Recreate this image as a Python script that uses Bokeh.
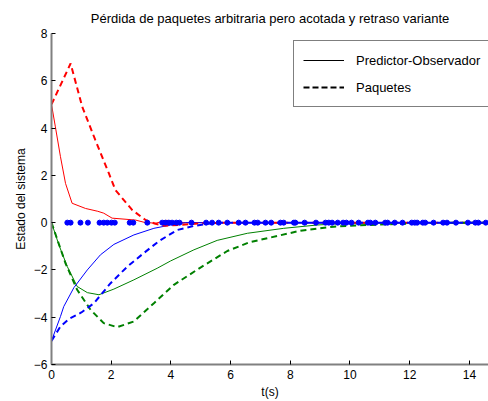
from bokeh.plotting import figure
from bokeh.models import Range1d, Legend, LegendItem, ColumnDataSource
from bokeh.embed import file_html
from bokeh.resources import INLINE

FONT = "Liberation Sans"

# Predictor-Observador (solid)
t_pred_r = [0, 0.13, 0.30, 0.47, 0.69, 1.14, 1.55, 1.75, 2.03, 2.81, 3.15, 3.5, 3.87, 4.1, 4.5, 15]
x_pred_r = [5.0, 4.05, 2.79, 1.66, 0.82, 0.6, 0.48, 0.40, 0.19, 0.11, 0.0, -0.02, 0.1, 0.0, 0.0, 0.0]

t_pred_g = [0, 0.25, 0.53, 0.86, 1.2, 1.59, 2.09, 2.76, 3.54, 3.99, 4.77, 5.55, 6.56, 7.78, 8.9, 10, 15]
x_pred_g = [0, -0.95, -1.86, -2.70, -2.96, -3.05, -2.81, -2.42, -1.93, -1.62, -1.15, -0.75, -0.45, -0.24, -0.1, -0.02, 0]

t_pred_b = [0, 0.3, 0.41, 0.75, 1.2, 1.64, 2.09, 2.76, 3.43, 3.99, 4.5, 15]
x_pred_b = [-5.0, -3.97, -3.55, -2.75, -2.0, -1.36, -0.92, -0.52, -0.24, -0.1, 0, 0]

# Paquetes (dashed)
t_paq_r = [0, 0.64, 1.03, 1.47, 1.92, 2.14, 2.70, 3.15, 3.48, 3.8, 4.3, 5.0, 6.0, 15]
x_paq_r = [5.0, 6.73, 4.9, 3.49, 2.09, 1.38, 0.54, 0.11, -0.05, -0.13, -0.1, -0.03, 0, 0]

t_paq_g = [0, 0.47, 0.86, 1.31, 1.75, 2.2, 2.76, 3.43, 4.1, 4.99, 5.89, 6.61, 7.23, 8.34, 9.46, 10.58, 11.7, 13, 15]
x_paq_g = [0, -1.72, -2.84, -3.69, -4.25, -4.42, -4.18, -3.41, -2.63, -1.9, -1.2, -0.84, -0.66, -0.34, -0.17, -0.10, -0.05, -0.01, 0]

t_paq_b = [0, 0.3, 0.6, 1.0, 1.42, 1.98, 2.54, 3.09, 3.6, 4.21, 4.77, 5.5, 15]
x_paq_b = [-5.0, -4.39, -4.06, -3.8, -3.41, -2.56, -1.86, -1.29, -0.78, -0.31, -0.14, 0, 0]

# Packet arrival instants (blue dots on zero)
t_dots = [0.53, 0.64, 0.97, 1.22, 1.61, 1.75, 1.87, 2.01, 2.12, 2.62, 2.74, 3.21,
          3.71, 3.82, 3.93, 4.04, 4.18, 4.29, 4.69, 5.18, 5.38, 5.60, 5.89, 6.27,
          6.50, 6.80, 6.91, 7.17, 7.36, 7.67, 7.78, 8.12, 8.17, 8.48, 8.86, 9.18,
          9.29, 9.40, 9.59, 9.77, 9.88, 10.05, 10.29, 10.60, 10.68, 10.85, 11.18,
          11.26, 11.50, 11.76, 12.07, 12.17, 12.25, 12.44, 12.52, 12.80, 13.12,
          13.25, 13.55, 13.95, 14.20, 14.30, 14.55]
y_dots = [0.0] * len(t_dots)

x_ticks = [0, 2, 4, 6, 8, 10, 12, 14]
y_ticks = [-6, -4, -2, 0, 2, 4, 6, 8]

title_text = "Pérdida de paquetes arbitraria pero acotada y retraso variante"
xlabel = "t(s)"
ylabel = "Estado del sistema"
legend_labels = ["Predictor-Observador", "Paquetes"]

p = figure(width=488, height=401, output_backend="svg", toolbar_location=None,
           x_range=Range1d(0, 14.64), y_range=Range1d(-6, 8),
           min_border_left=51, min_border_right=0, min_border_top=33, min_border_bottom=35)
p.outline_line_color = None
p.xgrid.visible = False
p.ygrid.visible = False
p.background_fill_color = "white"
p.border_fill_color = "white"

p.title.text = title_text
p.title.align = "center"
p.title.text_font = FONT
p.title.text_font_size = "13px"
p.title.text_font_style = "normal"
p.title.text_color = "black"
p.title.standoff = 15

for ax in (p.xaxis[0], p.yaxis[0]):
    ax.axis_line_color = "#808080"
    ax.axis_line_width = 2
    ax.major_tick_in = 4
    ax.major_tick_out = 0
    ax.major_tick_line_color = "black"
    ax.minor_tick_line_color = None
    ax.major_label_text_font = FONT
    ax.major_label_text_font_size = "12px"
    ax.major_label_text_color = "black"
    ax.major_label_text_line_height = 1.0
    ax.axis_label_text_font = FONT
    ax.axis_label_text_font_size = "12px"
    ax.axis_label_text_font_style = "normal"
    ax.axis_label_text_color = "black"
    ax.axis_label_text_line_height = 1.0

p.xaxis.ticker = x_ticks
p.yaxis.ticker = y_ticks
p.xaxis.axis_label = xlabel
p.yaxis.axis_label = ylabel
p.xaxis.major_label_standoff = 5
p.xaxis.axis_label_standoff = 3
p.yaxis.major_label_standoff = 4
p.yaxis.axis_label_standoff = 3

p.line(t_pred_r, x_pred_r, line_color="red", line_width=1)
p.line(t_pred_g, x_pred_g, line_color="green", line_width=1)
p.line(t_pred_b, x_pred_b, line_color="blue", line_width=1)
p.line(t_paq_r, x_paq_r, line_color="red", line_width=2, line_dash="6 4")
p.line(t_paq_g, x_paq_g, line_color="green", line_width=2, line_dash="6 4")
p.line(t_paq_b, x_paq_b, line_color="blue", line_width=2, line_dash="6 4")
p.scatter(t_dots, y_dots, size=5, marker="circle", fill_color="blue", line_color="blue")

nan = float("nan")
dummy = ColumnDataSource(data=dict(x=[nan, nan], y=[nan, nan]))
r_solid = p.line("x", "y", source=dummy, line_color="black", line_width=1)
r_dash = p.line("x", "y", source=dummy, line_color="black", line_width=2, line_dash="6 3")

legend = Legend(items=[LegendItem(label=legend_labels[0], renderers=[r_solid]),
                       LegendItem(label=legend_labels[1], renderers=[r_dash])],
                location=(242, 257), margin=0, padding=9, spacing=7,
                glyph_width=41, glyph_height=20, label_height=20, label_width=124,
                label_standoff=12, border_line_color="black", border_line_width=1,
                background_fill_color="white", background_fill_alpha=1.0,
                label_text_font=FONT, label_text_font_size="13px", label_text_color="black")
p.add_layout(legend)

open("out.html", "w").write(file_html(p, INLINE))
